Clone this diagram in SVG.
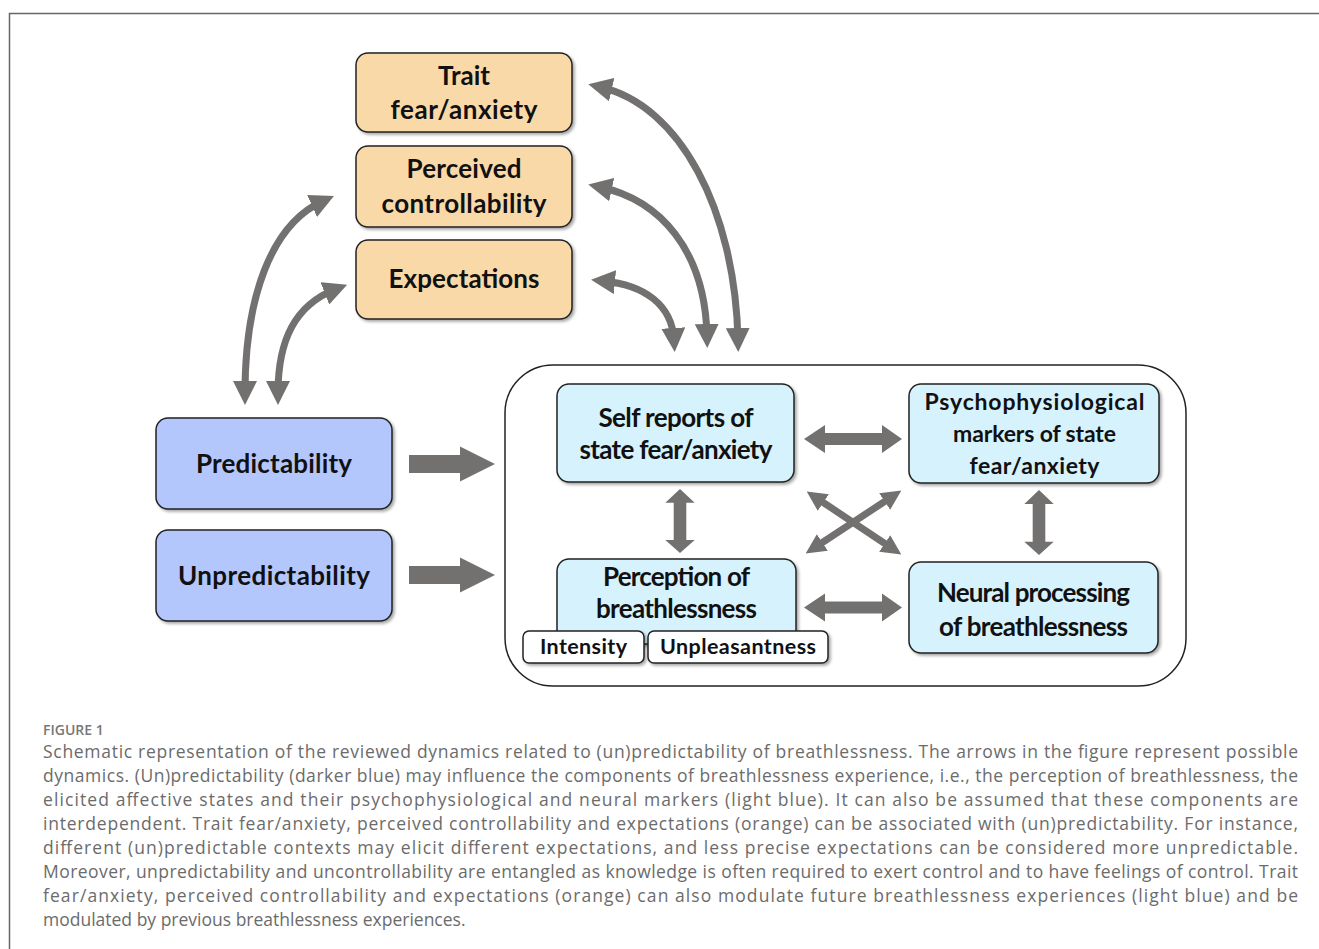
<svg xmlns="http://www.w3.org/2000/svg" width="1319" height="949" viewBox="0 0 1319 949">
<defs>
<style>
.box{stroke:#222;stroke-width:1.5}
.or{fill:#fad9a9}
.db{fill:#b4c7fd}
.lb{fill:#d6f2fd}
.wb{fill:#fff}
.lbl{font-family:Lato,"Liberation Sans",sans-serif;font-weight:700;fill:#111;text-anchor:middle}
.big{font-size:26px}
.mid{font-size:23px}
.sm{font-size:21.5px}
.cap{font-family:"Open Sans","Liberation Sans",sans-serif;font-size:17.5px;fill:#6b6b6b}
.fig{font-family:"Open Sans","Liberation Sans",sans-serif;font-size:14px;font-weight:600;fill:#777}
.curve{fill:none;stroke:#737070;stroke-width:7}
.thin{fill:none;stroke:#737070;stroke-width:7}
.blk{fill:#737070}
</style>
<filter id="sh" x="-10%" y="-10%" width="130%" height="130%">
<feDropShadow dx="2" dy="2" stdDeviation="1.5" flood-color="#000" flood-opacity="0.35"/>
</filter>
<marker id="h" viewBox="0 0 10 10" refX="5" refY="5" markerWidth="24" markerHeight="24" markerUnits="userSpaceOnUse" orient="auto-start-reverse">
<path d="M0,0 L10,5 L0,10 z" fill="#737070"/>
</marker>
<marker id="hs" viewBox="0 0 10 10" refX="5" refY="5" markerWidth="20" markerHeight="20" markerUnits="userSpaceOnUse" orient="auto-start-reverse">
<path d="M0,0 L10,5 L0,10 z" fill="#737070"/>
</marker>
<path id="dblH" d="M0,0 L21,-14 L21,-6 L78,-6 L78,-14 L98,0 L78,14 L78,6 L21,6 L21,14 z"/>
<path id="right" d="M0,-9 L51,-9 L51,-17.5 L86,0 L51,17.5 L51,9 L0,9 z"/>
</defs>
<rect width="1319" height="949" fill="#fff"/>
<path d="M9.5,949 V13.5 H1319" fill="none" stroke="#666" stroke-width="1.5"/>

<g id="container">
<rect x="505" y="365" width="681" height="321" rx="48" fill="none" stroke="#222" stroke-width="1.5"/>
</g>

<g id="trait">
<rect class="box or" x="356" y="53" width="216" height="79" rx="12" filter="url(#sh)"/>
<text class="lbl big" x="464" y="85" textLength="52" lengthAdjust="spacing">Trait</text>
<text class="lbl big" x="464" y="119" textLength="147" lengthAdjust="spacing">fear/anxiety</text>
</g>
<g id="controllability">
<rect class="box or" x="356" y="146" width="216" height="81" rx="12" filter="url(#sh)"/>
<text class="lbl big" x="464" y="178" textLength="115" lengthAdjust="spacing">Perceived</text>
<text class="lbl big" x="464" y="213" textLength="165" lengthAdjust="spacing">controllability</text>
</g>
<g id="expectations">
<rect class="box or" x="356" y="240" width="216" height="79" rx="12" filter="url(#sh)"/>
<text class="lbl big" x="464" y="288" textLength="151" lengthAdjust="spacing">Expectations</text>
</g>
<g id="predictability">
<rect class="box db" x="156" y="418" width="236" height="91" rx="12" filter="url(#sh)"/>
<text class="lbl big" x="274" y="473" textLength="156" lengthAdjust="spacing">Predictability</text>
</g>
<g id="unpredictability">
<rect class="box db" x="156" y="530" width="236" height="91" rx="12" filter="url(#sh)"/>
<text class="lbl big" x="274" y="585" textLength="192" lengthAdjust="spacing">Unpredictability</text>
</g>
<g id="selfreports">
<rect class="box lb" x="557" y="384" width="237" height="98" rx="12" filter="url(#sh)"/>
<text class="lbl big" x="676" y="427" textLength="155" lengthAdjust="spacing">Self reports of</text>
<text class="lbl big" x="676" y="459" textLength="193" lengthAdjust="spacing">state fear/anxiety</text>
</g>
<g id="psychophysiological">
<rect class="box lb" x="909" y="384" width="250" height="99" rx="12" filter="url(#sh)"/>
<text class="lbl mid" x="1034.5" y="410" textLength="220" lengthAdjust="spacing">Psychophysiological</text>
<text class="lbl mid" x="1034.5" y="442" textLength="163" lengthAdjust="spacing">markers of state</text>
<text class="lbl mid" x="1034.5" y="474" textLength="130" lengthAdjust="spacing">fear/anxiety</text>
</g>
<g id="perception">
<rect class="box lb" x="557" y="559" width="239" height="85" rx="12" filter="url(#sh)"/>
<text class="lbl big" x="676.5" y="586" textLength="147" lengthAdjust="spacing">Perception of</text>
<text class="lbl big" x="676.5" y="618" textLength="161" lengthAdjust="spacing">breathlessness</text>
</g>
<g id="intensity">
<rect class="box wb" x="523" y="631" width="121" height="32" rx="6" filter="url(#sh)"/>
<text class="lbl sm" x="583.5" y="654" textLength="87" lengthAdjust="spacing">Intensity</text>
</g>
<g id="unpleasantness">
<rect class="box wb" x="648" y="631" width="180" height="32" rx="6" filter="url(#sh)"/>
<text class="lbl sm" x="738" y="654" textLength="156" lengthAdjust="spacing">Unpleasantness</text>
</g>
<g id="neural">
<rect class="box lb" x="909" y="562" width="249" height="91" rx="12" filter="url(#sh)"/>
<text class="lbl big" x="1033.5" y="602" textLength="193" lengthAdjust="spacing">Neural processing</text>
<text class="lbl big" x="1033.5" y="636" textLength="189" lengthAdjust="spacing">of breathlessness</text>
</g>

<g id="connectors">
<path class="curve" d="M600,87 C680,105 735,210 738,340" marker-start="url(#h)" marker-end="url(#h)"/>
<path class="curve" d="M600,187 C660,200 705,250 707,336" marker-start="url(#h)" marker-end="url(#h)"/>
<path class="curve" d="M603,281 C645,285 672,305 674,340" marker-start="url(#h)" marker-end="url(#h)"/>
<path class="curve" d="M245,393 C245,300 270,225 323,201" marker-start="url(#h)" marker-end="url(#h)"/>
<path class="curve" d="M278,393 C278,340 295,305 336,289" marker-start="url(#h)" marker-end="url(#h)"/>
<use href="#right" class="blk" transform="translate(409,464)"/>
<use href="#right" class="blk" transform="translate(409,575)"/>
<use href="#dblH" class="blk" transform="translate(804,439)"/>
<use href="#dblH" class="blk" transform="translate(804,607.5)"/>
<use href="#dblH" class="blk" transform="translate(680,489) rotate(90) scale(0.653,1.05)"/>
<use href="#dblH" class="blk" transform="translate(1039,490) rotate(90) scale(0.663,1.05)"/>
<path class="thin" d="M815,497 L893,549" marker-start="url(#hs)" marker-end="url(#hs)"/>
<path class="thin" d="M893,496 L814,548" marker-start="url(#hs)" marker-end="url(#hs)"/>
</g>

<g id="caption">
<text class="fig" x="43" y="735">FIGURE 1</text>
<text class="cap" x="43" y="758" textLength="1255" lengthAdjust="spacing">Schematic representation of the reviewed dynamics related to (un)predictability of breathlessness. The arrows in the figure represent possible</text>
<text class="cap" x="43" y="782" textLength="1255" lengthAdjust="spacing">dynamics. (Un)predictability (darker blue) may influence the components of breathlessness experience, i.e., the perception of breathlessness, the</text>
<text class="cap" x="43" y="806" textLength="1255" lengthAdjust="spacing">elicited affective states and their psychophysiological and neural markers (light blue). It can also be assumed that these components are</text>
<text class="cap" x="43" y="830" textLength="1255" lengthAdjust="spacing">interdependent. Trait fear/anxiety, perceived controllability and expectations (orange) can be associated with (un)predictability. For instance,</text>
<text class="cap" x="43" y="854" textLength="1255" lengthAdjust="spacing">different (un)predictable contexts may elicit different expectations, and less precise expectations can be considered more unpredictable.</text>
<text class="cap" x="43" y="878" textLength="1255" lengthAdjust="spacing">Moreover, unpredictability and uncontrollability are entangled as knowledge is often required to exert control and to have feelings of control. Trait</text>
<text class="cap" x="43" y="902" textLength="1255" lengthAdjust="spacing">fear/anxiety, perceived controllability and expectations (orange) can also modulate future breathlessness experiences (light blue) and be</text>
<text class="cap" x="43" y="926">modulated by previous breathlessness experiences.</text>
</g>
</svg>
